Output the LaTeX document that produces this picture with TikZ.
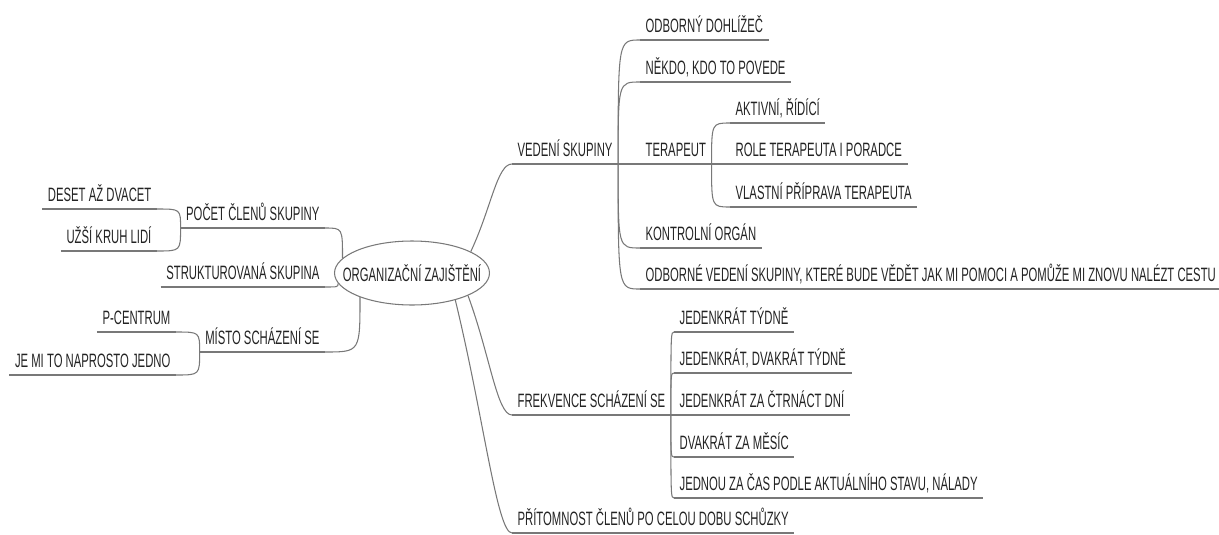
\documentclass[tikz,border=0pt]{standalone}
\usepackage{fontspec}
\setmainfont[FakeStretch=0.585]{Liberation Sans}
\usetikzlibrary{shapes.geometric,calc}

\definecolor{linegray}{RGB}{120,120,120}
\definecolor{textgray}{RGB}{35,35,35}

\tikzstyle{link} = [draw=linegray, line width=0.6pt]
\tikzstyle{topic} = [inner xsep=3pt, inner ysep=0pt, text height=8pt, text depth=4pt, text=textgray, font=\fontsize{11}{13}\selectfont]
\tikzstyle{topicR} = [topic, anchor=south west]
\tikzstyle{topicL} = [topic, anchor=south east]
\tikzstyle{hub} = [ellipse, draw=linegray, line width=0.6pt, inner sep=0pt, minimum width=3.1cm, minimum height=1.28cm, text=textgray, font=\fontsize{11}{13}\selectfont]

\begin{document}
\begin{tikzpicture}[x=0.02cm, y=-0.02cm]
        \useasboundingbox (0,0) rectangle (1219,534);
        % central topic
        \node (org) at (412,273) [hub] {\makebox[0pt]{ORGANIZAČNÍ ZAJIŠTĚNÍ}};

        % left side
        \node (pc) at (325,228) [topicL] {POČET ČLENŮ SKUPINY};
        \node (des) at (157,209) [topicL] {DESET AŽ DVACET};
        \node (uzs) at (157,251) [topicL] {UŽŠÍ KRUH LIDÍ};
        \node (str) at (325,287) [topicL] {STRUKTUROVANÁ SKUPINA};
        \node (ms) at (325,352) [topicL] {MÍSTO SCHÁZENÍ SE};
        \node (pce) at (176,332) [topicL] {P-CENTRUM};
        \node (jmt) at (176,375) [topicL] {JE MI TO NAPROSTO JEDNO};

        % right side
        \node (vs) at (512,164) [topicR] {VEDENÍ SKUPINY};
        \node (odb) at (640,40) [topicR] {ODBORNÝ DOHLÍŽEČ};
        \node (nek) at (640,82) [topicR] {NĚKDO, KDO TO POVEDE};
        \node (ter) at (640,164) [topicR] {TERAPEUT};
        \node (akt) at (730,123) [topicR] {AKTIVNÍ, ŘÍDÍCÍ};
        \node (rol) at (730,164) [topicR] {ROLE TERAPEUTA I PORADCE};
        \node (vla) at (730,207) [topicR] {VLASTNÍ PŘÍPRAVA TERAPEUTA};
        \node (kon) at (640,248) [topicR] {KONTROLNÍ ORGÁN};
        \node (odv) at (640,289) [topicR] {ODBORNÉ VEDENÍ SKUPINY, KTERÉ BUDE VĚDĚT JAK MI POMOCI A POMŮŽE MI ZNOVU NALÉZT CESTU};
        \node (fs) at (512,415) [topicR] {FREKVENCE SCHÁZENÍ SE};
        \node (jt) at (674,332) [topicR] {JEDENKRÁT TÝDNĚ};
        \node (jdt) at (674,373) [topicR] {JEDENKRÁT, DVAKRÁT TÝDNĚ};
        \node (jc) at (674,415) [topicR] {JEDENKRÁT ZA ČTRNÁCT DNÍ};
        \node (dm) at (674,457) [topicR] {DVAKRÁT ZA MĚSÍC};
        \node (jzc) at (674,498) [topicR] {JEDNOU ZA ČAS PODLE AKTUÁLNÍHO STAVU, NÁLADY};
        \node (pcl) at (512,533) [topicR] {PŘÍTOMNOST ČLENŮ PO CELOU DOBU SCHŮZKY};

        % underlines
        \foreach \n in {pc,des,uzs,str,ms,pce,jmt,vs,odb,nek,ter,akt,rol,vla,kon,odv,fs,jt,jdt,jc,dm,jzc,pcl}
            \draw[link] (\n.south west) -- (\n.south east);

        % left branches
        \draw[link] (pc.south east) .. controls (org.168 |- pc.south east) .. (org.168);
        \draw[link] (str.south east) .. controls (org.188 |- str.south east) .. (org.188);
        \draw[link] (ms.south east) .. controls (org.205 |- ms.south east) .. (org.205);
        \foreach \c in {des,uzs}
            \draw[link] (\c.south east) .. controls (pc.south west |- \c.south east) .. (pc.south west);
        \foreach \c in {pce,jmt}
            \draw[link] (\c.south east) .. controls (ms.south west |- \c.south east) .. (ms.south west);

        % right branches
        \draw[link] (org.20) .. controls ($(org.20)!0.5!(vs.south west)$) and ($(vs.south west)+(-15,0)$) .. (vs.south west);
        \draw[link] (org.-22) .. controls ($(org.-22)!0.5!(fs.south west)$) and ($(fs.south west)+(-15,0)$) .. (fs.south west);
        \draw[link] (org.-32) .. controls ($(org.-32)!0.5!(pcl.south west)$) and ($(pcl.south west)+(-15,0)$) .. (pcl.south west);
        \foreach \c in {odb,nek,ter,kon,odv}
            \draw[link] (vs.south east) .. controls (vs.south east |- \c.south west) .. (\c.south west);
        \foreach \c in {akt,rol,vla}
            \draw[link] (ter.south east) .. controls (ter.south east |- \c.south west) .. (\c.south west);
        \foreach \c in {jt,jdt,jc,dm,jzc}
            \draw[link] (fs.south east) .. controls (fs.south east |- \c.south west) .. (\c.south west);
\end{tikzpicture}
\end{document}
